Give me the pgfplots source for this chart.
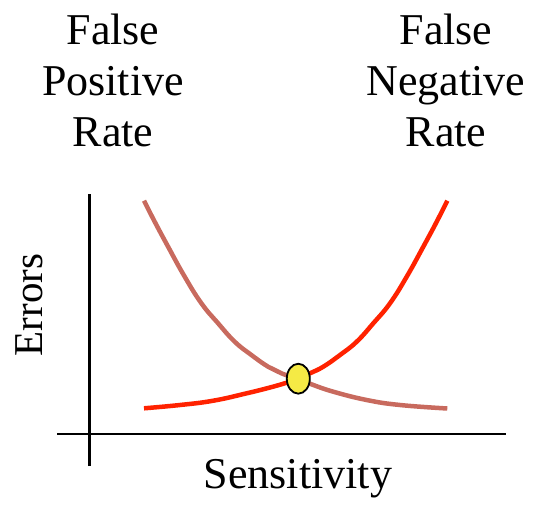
\documentclass[border=0pt]{standalone}
\usepackage{fontspec}
\setmainfont{Liberation Serif}
\usepackage{pgfplots}
\pgfplotsset{compat=1.18}
\definecolor{fprcol}{HTML}{C86A5E}
\definecolor{fnrcol}{HTML}{FF2200}
\definecolor{dotcol}{HTML}{F5EA45}
\newcommand{\labelfont}{\fontsize{44}{51}\selectfont}
\begin{document}
\begin{tikzpicture}
\begin{axis}[
  scale only axis,width=535pt,height=512pt,
  xmin=0,xmax=535,ymin=0,ymax=512,
  hide axis,clip=false
]
% axes
\draw[line width=2.2pt] (axis cs:89.5,46) -- (axis cs:89.5,318);
\draw[line width=2.2pt] (axis cs:57,78) -- (axis cs:506,78);
% false positive rate (falls with sensitivity)
\addplot[fprcol,line width=4.5pt,smooth,tension=0.75] coordinates {
  (144,311.3)(154.7,290.3)(168.1,265.3)(184.7,235.3)(201.4,208.7)(218.1,188.7)
  (234.7,170.3)(251.4,157)(268.1,145.3)(281.4,138.7)(298,133)(312,127.5)
  (333.3,120.3)(366.7,112)(400,107)(447.3,103.5)};
% false negative rate (rises with sensitivity)
\addplot[fnrcol,line width=4.5pt,smooth,tension=0.75] coordinates {
  (144,103.7)(180,107)(213.3,111.3)(246.7,118.7)(270,124.5)(286.7,129.3)
  (298,133)(310,138.7)(323.3,145.3)(340,157)(356.7,170.3)(373.3,188.7)
  (390,208.7)(406.7,235.3)(423.3,265.3)(436.7,290.3)(447.3,311.3)};
% operating point
\addplot[only marks,mark=*,mark size=11.5pt,
  mark options={yscale=1.3,fill=dotcol,draw=black,line width=1.8pt}]
  coordinates {(298.3,133.3)};
% labels
\node[font=\labelfont,align=center,anchor=base] at (axis cs:113,365) {False\\Positive\\Rate};
\node[font=\labelfont,align=center,anchor=base] at (axis cs:446,365) {False\\Negative\\Rate};
\node[font=\labelfont,anchor=base] at (axis cs:298,24) {Sensitivity};
\node[font=\fontsize{41}{48}\selectfont,anchor=base,rotate=90] at (axis cs:42,207) {Errors};
\end{axis}
\pgfresetboundingbox
\path (0,0) rectangle (535pt,512pt);
\end{tikzpicture}
\end{document}
